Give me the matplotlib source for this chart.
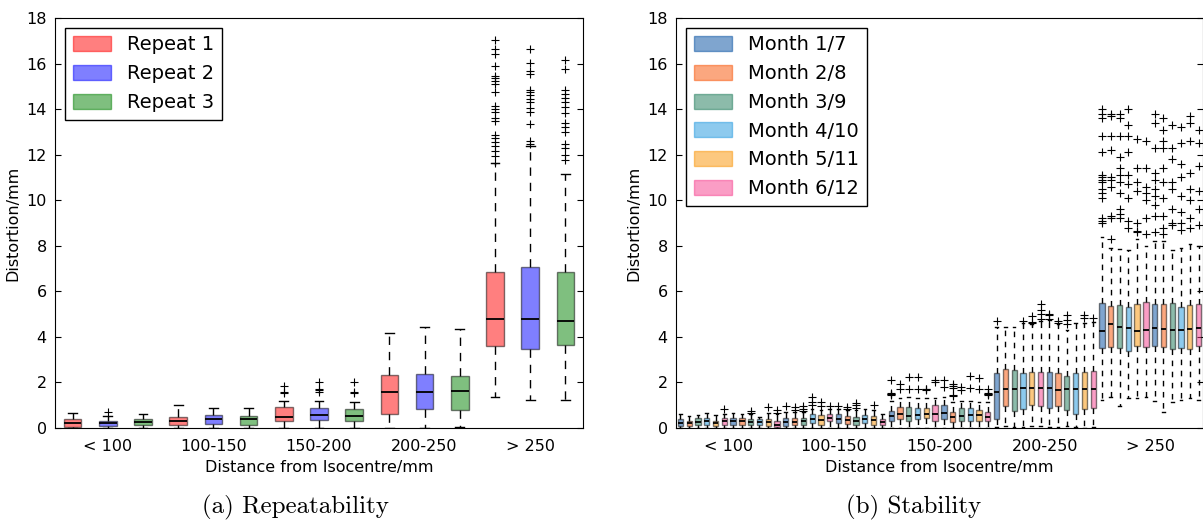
import numpy as np
import matplotlib.pyplot as plt
from matplotlib.patches import Patch

# ── data: distance bins ───────────────────────────────────────────────────────
groups = ['< 100', '100-150', '150-200', '200-250', '> 250']

# ── (a) repeatability: 3 repeats x 5 bins, box stats ─────────────────────────
rep_labels = ['Repeat 1', 'Repeat 2', 'Repeat 3']
rep_colors = ['red', 'blue', 'green']
# order: bin0 R1,R2,R3, bin1 R1,R2,R3, ...
rep_whislo = [0.0, 0.0, 0.02, 0.0, 0.0, 0.0, 0.0, 0.02, 0.0,
              0.02, 0.02, 0.03, 1.38, 1.22, 1.22]
rep_q1 = [0.05, 0.1, 0.12, 0.15, 0.18, 0.13, 0.32, 0.35, 0.3,
          0.63, 0.85, 0.78, 3.62, 3.48, 3.64]
rep_med = [0.2, 0.24, 0.27, 0.32, 0.38, 0.38, 0.5, 0.55, 0.52,
           1.57, 1.56, 1.61, 4.79, 4.77, 4.71]
rep_q3 = [0.38, 0.32, 0.4, 0.48, 0.55, 0.52, 0.91, 0.9, 0.85,
          2.32, 2.39, 2.3, 6.85, 7.05, 6.85]
rep_whishi = [0.67, 0.53, 0.61, 1.02, 0.86, 0.86, 1.17, 1.2, 1.15,
              4.19, 4.44, 4.33, 11.63, 12.36, 11.14]
rep_fliers = [
    [], [0.72], [], [], [], [],
    [1.55, 1.58, 1.85], [1.6, 1.65, 1.7, 2.0], [1.55, 1.58, 2.0],
    [], [], [],
    [17.05, 16.64, 16.44, 15.88, 15.47, 15.35, 15.25, 15.12, 14.74, 14.12,
     14.0, 13.86, 13.61, 13.5, 12.87, 12.73, 12.55, 12.36, 12.14, 11.92, 11.65],
    [16.64, 16.03, 15.66, 15.55, 14.85, 14.74, 14.6, 14.44, 14.3, 14.05,
     13.86, 13.34, 12.62, 12.45],
    [16.14, 15.76, 14.82, 14.65, 14.5, 14.3, 14.1, 13.85, 13.4, 13.2,
     13.0, 12.45, 12.3, 12.0, 11.75],
]

# ── (b) stability: 12 months x 5 bins ─────────────────────────────────────────
month_labels = ['Month 1/7', 'Month 2/8', 'Month 3/9',
                'Month 4/10', 'Month 5/11', 'Month 6/12']
month_colors = ['#004da1', '#f95100', '#1b7957', '#1d97df', '#fb9300', '#f73d8d']

stab_whislo = (
    [0.0] * 12 +
    [0.0] * 12 +
    [0.0] * 12 +
    [0.03, 0.08, 0.03, 0.05, 0.08, 0.1, 0.05, 0.03, 0.08, 0.03, 0.02, 0.05] +
    [1.25, 1.35, 0.95, 1.3, 1.3, 1.35, 1.2, 0.7, 1.15, 1.25, 1.3, 1.25]
)
stab_q1 = (
    [0.08, 0.1, 0.12, 0.15, 0.1, 0.15, 0.15, 0.12, 0.12, 0.12, 0.1, 0.05] +
    [0.1, 0.12, 0.15, 0.2, 0.15, 0.3, 0.2, 0.18, 0.15, 0.2, 0.15, 0.12] +
    [0.3, 0.4, 0.3, 0.4, 0.45, 0.3, 0.4, 0.26, 0.3, 0.3, 0.3, 0.3] +
    [0.4, 0.95, 0.75, 0.85, 1.0, 0.95, 0.9, 0.95, 0.8, 0.6, 0.85, 0.9] +
    [3.5, 3.55, 3.5, 3.4, 3.6, 3.55, 3.6, 3.55, 3.45, 3.5, 3.45, 3.6]
)
stab_med = (
    [0.2, 0.2, 0.28, 0.3, 0.2, 0.3, 0.3, 0.3, 0.28, 0.25, 0.25, 0.15] +
    [0.25, 0.28, 0.3, 0.4, 0.35, 0.45, 0.4, 0.35, 0.32, 0.38, 0.35, 0.25] +
    [0.51, 0.63, 0.51, 0.56, 0.63, 0.6, 0.67, 0.48, 0.51, 0.56, 0.56, 0.48] +
    [1.6, 1.7, 1.7, 1.75, 1.75, 1.75, 1.75, 1.68, 1.7, 1.7, 1.7, 1.7] +
    [4.25, 4.55, 4.45, 4.4, 4.25, 4.3, 4.4, 4.35, 4.3, 4.3, 4.35, 4.4]
)
stab_q3 = (
    [0.38, 0.32, 0.45, 0.42, 0.32, 0.45, 0.42, 0.42, 0.4, 0.38, 0.38, 0.32] +
    [0.42, 0.45, 0.45, 0.6, 0.55, 0.6, 0.6, 0.52, 0.5, 0.58, 0.52, 0.4] +
    [0.75, 0.92, 0.92, 0.9, 0.9, 1.0, 1.0, 0.7, 0.9, 0.9, 0.78, 0.7] +
    [2.4, 2.6, 2.55, 2.4, 2.45, 2.45, 2.45, 2.4, 2.3, 2.4, 2.45, 2.5] +
    [5.5, 5.35, 5.4, 5.3, 5.45, 5.55, 5.45, 5.45, 5.5, 5.3, 5.4, 5.45]
)
stab_whishi = (
    [0.62, 0.52, 0.58, 0.68, 0.55, 0.62, 0.68, 0.62, 0.6, 0.5, 0.65, 0.6] +
    [0.72, 0.7, 0.72, 0.85, 0.8, 0.82, 0.85, 0.8, 0.78, 0.82, 0.78, 0.6] +
    [1.2, 1.3, 1.35, 1.3, 1.3, 1.3, 1.36, 1.14, 1.2, 1.2, 1.14, 1.14] +
    [4.45, 4.45, 4.45, 4.6, 4.55, 4.7, 4.75, 4.55, 4.3, 4.6, 4.6, 4.65] +
    [8.4, 7.9, 7.85, 7.8, 8.3, 8.0, 8.2, 8.2, 7.8, 7.9, 8.1, 8.0]
)
stab_fliers = [
    # < 100
    [], [], [], [], [], [0.85], [], [], [0.65, 0.73], [], [0.93], [0.66, 0.79],
    # 100-150
    [0.95], [0.79, 0.93], [0.75, 0.85, 0.95], [1.02, 1.14, 1.36], [0.95, 1.14],
    [0.95], [0.95], [0.84, 0.93], [0.9, 1.0, 1.1], [], [1.0], [],
    # 150-200
    [1.45, 1.48, 1.5, 1.52, 2.1], [1.73, 1.95], [1.73, 2.25], [1.73, 2.25],
    [1.68, 1.7, 1.72], [2.0, 2.1], [1.8, 2.1], [1.42, 1.45, 1.75, 1.85, 1.95],
    [1.65, 1.8], [1.77, 2.27], [1.73, 2.2], [1.45, 1.48, 1.5, 1.52, 1.73],
    # 200-250
    [4.7], [], [], [4.7], [4.6, 4.65, 4.9], [4.8, 5.0, 5.2, 5.45],
    [4.8, 4.95, 5.0], [4.6, 4.7], [4.55, 4.75, 4.95], [], [4.85, 4.95], [4.85],
    # > 250
    [9.0, 9.1, 9.2, 10.1, 10.3, 10.5, 10.8, 10.9, 11.0, 11.1, 12.1, 12.8,
     13.6, 13.8, 14.0],
    [8.3, 9.2, 9.3, 10.6, 10.9, 11.0, 12.2, 12.8, 13.7, 13.8],
    [9.2, 9.4, 9.6, 10.3, 10.8, 11.1, 11.4, 11.9, 12.8, 13.6, 13.8],
    [8.8, 9.1, 10.1, 10.7, 11.1, 12.1, 12.8, 13.3, 14.0],
    [8.6, 8.65, 9.0, 10.4, 10.8, 11.4, 12.7],
    [8.5, 9.2, 10.0, 10.3, 10.6, 11.4, 12.6],
    [8.6, 9.3, 9.8, 10.2, 10.5, 10.9, 11.2, 12.3, 13.4, 13.8],
    [8.5, 8.8, 9.3, 10.1, 10.8, 11.4, 12.3, 12.6, 13.1, 13.6],
    [8.9, 9.0, 9.6, 10.5, 10.8, 11.8, 12.3, 13.3],
    [8.7, 9.0, 9.5, 10.2, 11.0, 11.6, 12.5, 13.2],
    [8.8, 9.2, 10.0, 10.5, 11.2, 12.6, 13.4, 13.7],
    [8.9, 9.6, 10.4, 11.5, 12.5, 13.1],
]


# ── 畫 box plot ───────────────────────────────────────────────────────────────
def draw_boxes(ax, whislo, q1, med, q3, whishi, fliers, colors, dash, width):
    stats = [dict(whislo=a, q1=b, med=c, q3=d, whishi=e, fliers=f)
             for a, b, c, d, e, f in zip(whislo, q1, med, q3, whishi, fliers)]
    pos = np.arange(1, len(stats) + 1)
    bp = ax.bxp(stats, positions=pos, widths=width, patch_artist=True,
                manage_ticks=False,
                whiskerprops=dict(color='k', linewidth=1, linestyle=(0, dash)),
                capprops=dict(color='k', linewidth=1),
                medianprops=dict(color='k', linewidth=1.3),
                flierprops=dict(marker='+', markeredgecolor='k',
                                markersize=6, markeredgewidth=0.8))
    for i, box in enumerate(bp['boxes']):
        box.set_facecolor(colors[i % len(colors)])
        box.set_edgecolor('k')
        box.set_alpha(0.5)
    return bp


def style_axes(ax, centers):
    ax.set_ylim(0, 18)
    ax.set_yticks(range(0, 19, 2))
    ax.set_xticks(centers)
    ax.set_xticklabels(groups)
    ax.tick_params(axis='x', length=0, labelsize=11.5, pad=8)
    ax.tick_params(axis='y', direction='in', length=4, right=True,
                   labelsize=11.5, pad=6)
    ax.set_xlabel('Distance from Isocentre/mm', fontsize=11.5, labelpad=4)
    ax.set_ylabel('Distortion/mm', fontsize=11.5)


fig = plt.figure(figsize=(12.03, 5.23), dpi=100)

ax1 = fig.add_axes([55 / 1203, 95 / 523, 528 / 1203, 410 / 523])
draw_boxes(ax1, rep_whislo, rep_q1, rep_med, rep_q3, rep_whishi, rep_fliers,
           rep_colors, (6, 5), 0.5)
ax1.set_xlim(0.5, 15.5)
style_axes(ax1, [2, 5, 8, 11, 14])
ax1.legend(handles=[Patch(facecolor=c, edgecolor=c, alpha=0.5, label=l)
                    for c, l in zip(rep_colors, rep_labels)],
           loc='upper left', fontsize=14, fancybox=False, framealpha=1,
           edgecolor='k', handlelength=2.0, handleheight=0.8)

ax2 = fig.add_axes([676 / 1203, 95 / 523, 527 / 1203, 410 / 523])
draw_boxes(ax2, stab_whislo, stab_q1, stab_med, stab_q3, stab_whishi,
           stab_fliers, month_colors, (4, 4), 0.6)
ax2.set_xlim(0.5, 60.5)
style_axes(ax2, [6.5, 18.5, 30.5, 42.5, 54.5])
ax2.legend(handles=[Patch(facecolor=c, edgecolor=c, alpha=0.5, label=l)
                    for c, l in zip(month_colors, month_labels)],
           loc='upper left', fontsize=14, fancybox=False, framealpha=1,
           edgecolor='k', handlelength=2.0, handleheight=0.8)

# ── captions (LaTeX style) ────────────────────────────────────────────────────
fig.text(295 / 1203, 1 - 507 / 523, '(a) Repeatability', family='cmr10',
         fontsize=18, ha='center', va='center')
fig.text(914 / 1203, 1 - 507 / 523, '(b) Stability', family='cmr10',
         fontsize=18, ha='center', va='center')

fig.savefig('out.png', dpi=100)
